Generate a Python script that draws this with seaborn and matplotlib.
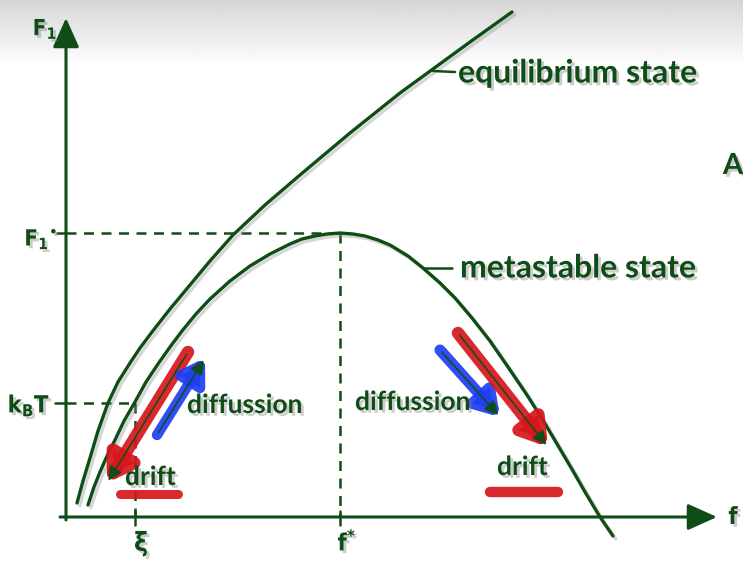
import numpy as np
import pandas as pd
import matplotlib
matplotlib.use("Agg")
import matplotlib.pyplot as plt
import matplotlib.patheffects as pe
import seaborn as sns

sns.set_style("white")
plt.rcParams["font.family"] = ["Lato", "DejaVu Sans"]

GREEN = "#0f4d16"
RED = "#d6161c"
BLUE = "#1e3ff2"

# free-energy curves: order parameter f (horizontal) vs F1 (vertical)
eq_f = [11, 17, 24, 32, 42, 52, 64, 74, 86, 104, 124, 144, 167, 199, 234, 284,
        334, 367, 404, 446]
eq_F = [14, 36, 59, 86, 114, 135, 154, 169, 185, 208, 232, 256, 282, 312, 342,
        384, 424, 448, 475, 505]
meta_f = [22, 28, 34, 41, 49, 58, 69, 80, 92, 104, 116, 130, 144, 164, 184, 204,
          224, 236, 249, 261, 274, 287, 299, 312, 324, 342, 357, 374, 389, 406,
          424, 442, 461, 478, 494, 507, 519, 534, 547]
meta_F = [12, 30, 45, 61, 77, 96, 115, 135, 153, 170, 186, 203, 218, 236, 251,
          263, 273, 278, 281, 283, 284, 283, 281, 277, 272, 261, 249, 234, 219,
          199, 176, 150, 122, 95, 68, 46, 25, 0, -19]

# marked levels
f_star, F1_star = 274, 284
xi, kBT = 69, 114

# hand-drawn arrows: (tail, head)
drift_left = ((122, 165), (41, 34))
diff_left = ((91, 82), (139, 159))
diff_right = ((374, 167), (434, 100))
drift_right = ((392, 184), (482, 70))
underline_left = ([54, 112], [23, 23])
underline_right = ([424, 492], [25, 25])

fig = plt.figure(figsize=(7.43, 5.65), dpi=100)
ax = fig.add_axes([0, 0, 1, 1])
ax.set_axis_off()

XMIN, XMAX, YMIN, YMAX = -66, 677, -48, 517

# grey band along the top edge
band = np.linspace(0.84, 1.0, 60).reshape(-1, 1)
ax.imshow(band, extent=[XMIN, XMAX, 450, YMAX], cmap="gray", vmin=0, vmax=1,
          aspect="auto", zorder=0, interpolation="bilinear")

shadow_line = [pe.SimpleLineShadow(offset=(2, -2), shadow_color="0.55", alpha=0.35),
               pe.Normal()]
shadow_text = [pe.withSimplePatchShadow(offset=(2, -2), shadow_rgbFace=(0.5, 0.5, 0.5),
                                        alpha=0.4)]

curves = pd.DataFrame({
    "f": eq_f + meta_f,
    "F": eq_F + meta_F,
    "state": ["equilibrium"] * len(eq_f) + ["metastable"] * len(meta_f),
})
sns.lineplot(data=curves, x="f", y="F", units="state", estimator=None, sort=False,
             color=GREEN, lw=2.4, ax=ax, legend=False, zorder=3)
for line in ax.get_lines():
    line.set_path_effects(shadow_line)
    line.set_solid_joinstyle("round")

# axes with arrowheads
ax.annotate("", xy=(651, 0), xytext=(-6, 0),
            arrowprops=dict(arrowstyle="-|>,head_length=1.0,head_width=0.45",
                            mutation_scale=18, lw=2.2, color=GREEN, shrinkA=0, shrinkB=0))
ax.annotate("", xy=(0, 499), xytext=(0, -3),
            arrowprops=dict(arrowstyle="-|>,head_length=1.0,head_width=0.45",
                            mutation_scale=18, lw=2.2, color=GREEN, shrinkA=0, shrinkB=0))

# dashed guides and ticks
dash = dict(color=GREEN, lw=1.8, ls=(0, (4, 3)), zorder=2)
ax.plot([0, f_star], [F1_star, F1_star], **dash)
ax.plot([f_star, f_star], [F1_star, 0], **dash)
ax.plot([0, xi], [kBT, kBT], **dash)
ax.plot([xi, xi], [kBT, 0], **dash)
tick = dict(color=GREEN, lw=1.8, zorder=3)
ax.plot([-9, 0], [F1_star, F1_star], **tick)
ax.plot([-11, 0], [kBT, kBT], **tick)
ax.plot([xi, xi], [-8, 6], **tick)
ax.plot([f_star, f_star], [-8, 6], **tick)

# pointers to curve labels
ax.plot([367, 389], [446, 445], color=GREEN, lw=1.8, zorder=3)
ax.plot([357, 386], [249, 249], color=GREEN, lw=1.8, zorder=3)


def marker_arrow(tail, head, color, width, scale):
    ax.annotate("", xy=head, xytext=tail,
                arrowprops=dict(arrowstyle="-|>,head_length=0.55,head_width=0.35",
                                mutation_scale=scale, lw=width, color=color,
                                alpha=0.92, shrinkA=0, shrinkB=0,
                                capstyle="round", joinstyle="round"),
                zorder=4)
    ax.annotate("", xy=head, xytext=tail,
                arrowprops=dict(arrowstyle="-|>,head_length=0.6,head_width=0.3",
                                mutation_scale=14, lw=1.1, color=GREEN,
                                shrinkA=2, shrinkB=2),
                zorder=5)


marker_arrow(*drift_left, RED, 9, 26)
marker_arrow(*diff_left, BLUE, 7.5, 24)
marker_arrow(*diff_right, BLUE, 8, 24)
marker_arrow(*drift_right, RED, 9, 26)
ax.plot(*underline_left, color=RED, lw=6.5, solid_capstyle="round", alpha=0.92, zorder=4)
ax.plot(*underline_right, color=RED, lw=7.5, solid_capstyle="round", alpha=0.92, zorder=4)

# curve and arrow labels
big = dict(color=GREEN, fontsize=23, fontweight="bold", va="center", ha="left",
           path_effects=shadow_text, zorder=6)
ax.text(392, 444, "equilibrium state", **big)
ax.text(394, 249, "metastable state", **big)
ax.text(667, 351, "A", color=GREEN, fontsize=21, ha="center", va="center",
        fontweight="bold", path_effects=shadow_text)
mid = dict(color=GREEN, fontsize=19, fontweight="bold", va="center", ha="left",
           path_effects=shadow_text, zorder=6)
ax.text(121, 112, "diffussion", **mid)
ax.text(289, 115, "diffussion", **mid)
ax.text(59, 40, "drift", **mid)
ax.text(431, 50, "drift", **mid)

# axis symbols
sym = dict(color=GREEN, family=["DejaVu Sans"], fontstretch="condensed",
           fontweight="bold", path_effects=shadow_text, zorder=6)
ax.text(-21, 488, r"F$_{\mathregular{1}}$", fontsize=16, ha="center", va="center", **sym)
ax.text(-25, 278, r"F$_{\mathregular{1}}$$^{\mathregular{•}}$", fontsize=16,
        ha="center", va="center", **sym)
ax.text(-37, 112, r"k$_{\mathregular{B}}$T", fontsize=17, ha="center", va="center", **sym)
ax.text(xi + 6, -27, "ξ", fontsize=19, ha="center", va="center", **sym)
ax.text(f_star + 7, -25, r"f$^{\mathregular{*}}$", fontsize=17, ha="center",
        va="center", **sym)
ax.text(667, 0, "f", fontsize=17, ha="center", va="center", **sym)

ax.set_xlim(XMIN, XMAX)
ax.set_ylim(YMIN, YMAX)
fig.savefig("out.png", dpi=100, facecolor="white")
